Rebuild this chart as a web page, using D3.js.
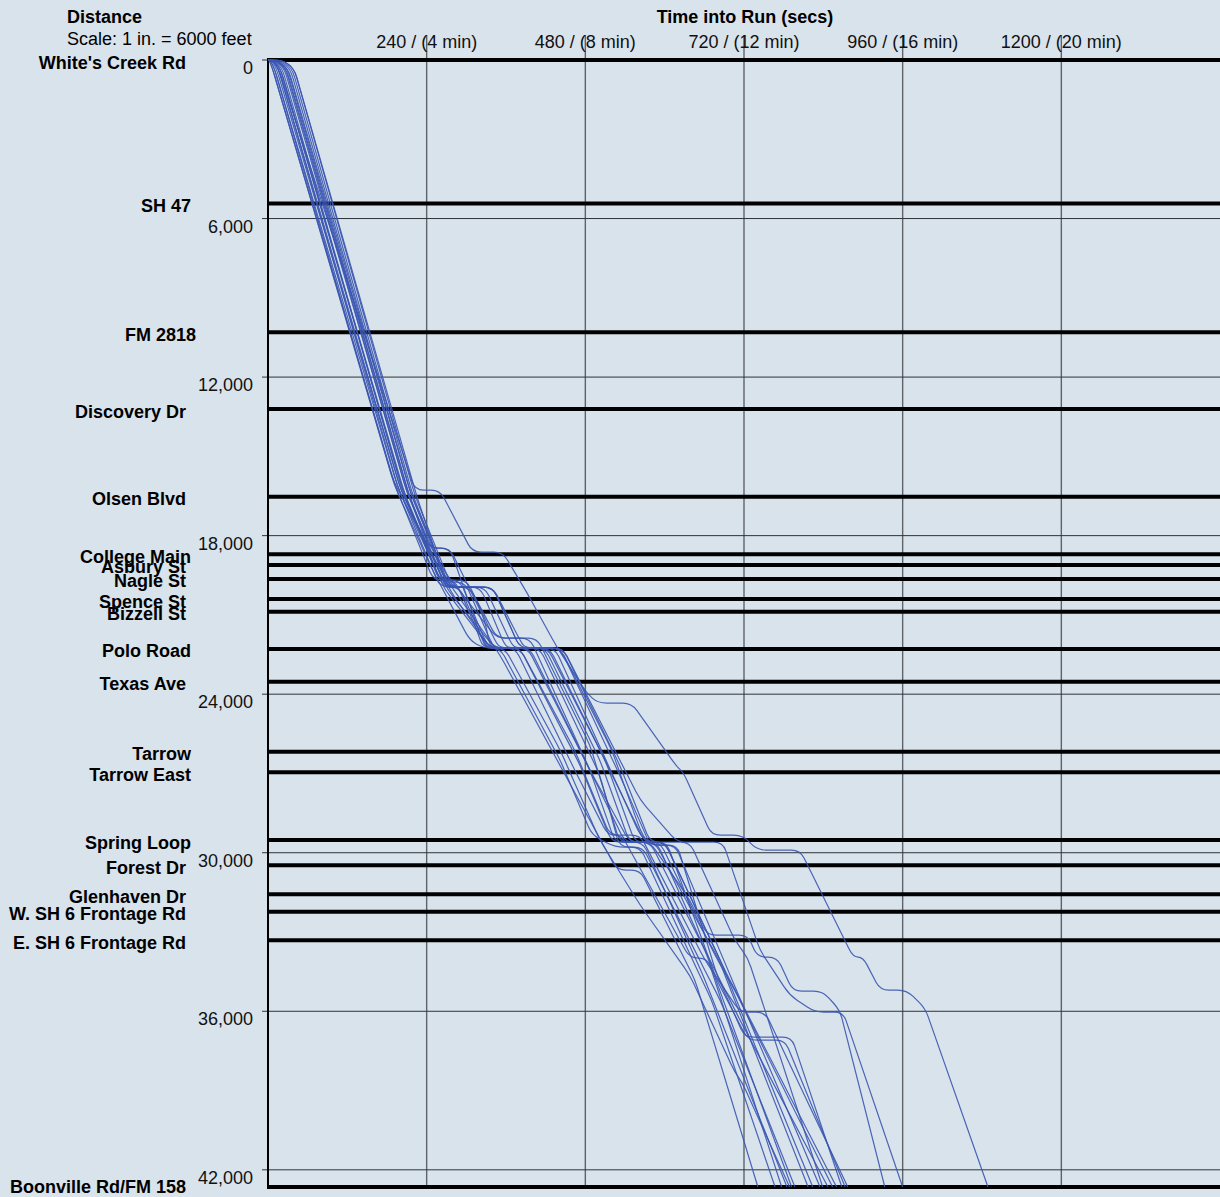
<!DOCTYPE html>
<html><head><meta charset="utf-8">
<script src="https://cdn.jsdelivr.net/npm/d3@7"></script>
<style>
body{margin:0;background:#d9e3ec;}
svg{display:block;}
text{font-family:"Liberation Sans",Arial,sans-serif;}
</style>
</head><body>
<svg id="chart" width="1220" height="1197"></svg>
<script>
// ---------- DATA ----------
const streetNames = ["White's Creek Rd","SH 47","FM 2818","Discovery Dr","Olsen Blvd","College Main","Asbury St","Nagle St","Spence St","Bizzell St","Polo Road","Texas Ave","Tarrow","Tarrow East","Spring Loop","Forest Dr","Glenhaven Dr","W. SH 6 Frontage Rd","E. SH 6 Frontage Rd","Boonville Rd/FM 158"];
const streetDistances = [0,5430,10300,13210,16530,18700,19110,19640,20400,20880,22290,23530,26180,26950,29520,30470,31570,32230,33310,42650];
const distanceTicks = [0,6000,12000,18000,24000,30000,36000,42000];
const timeTicks = [240,480,720,960,1200];
const timeTickLabels = ["240 / (4 min)","480 / (8 min)","720 / (12 min)","960 / (16 min)","1200 / (20 min)"];

// runs: [time (secs), distance (feet)]
const run01 = [[0,0],[6,0],[189,15897],[265,19493],[351,22521],[476,28274],[528,30659],[563,30659],[646,34822],[741,42650]];
const run02 = [[0,0],[3,0],[192,16086],[250,19682],[283,19682],[316,21575],[325,22256],[351,22256],[442,26495],[490,29334],[525,29788],[563,29788],[653,34633],[671,35579],[767,42650]];
const run03 = [[0,0],[12,0],[197,16200],[260,19947],[290,19947],[325,21953],[333,22256],[374,22256],[464,26874],[514,29334],[535,29334],[638,33989],[665,33989],[777,42650]];
const run04 = [[0,0],[6,0],[195,16086],[268,20061],[336,22256],[381,22256],[472,26684],[520,29599],[567,29599],[658,34633],[785,42650]];
const run05 = [[0,0],[18,0],[203,16276],[260,19682],[290,19682],[328,21953],[336,22256],[396,22256],[487,26874],[525,29599],[588,29599],[661,33687],[792,42650]];
const run06 = [[0,0],[9,0],[200,16200],[272,20061],[343,22256],[411,22256],[502,27063],[532,29788],[567,29788],[653,34065],[684,35579],[797,42650]];
const run07 = [[0,0],[3,0],[191,16086],[245,19114],[305,21953],[325,22256],[358,22256],[442,26117],[502,29523],[563,31983],[638,34633],[706,38304],[717,38683],[789,42650]];
const run08 = [[0,0],[24,0],[212,16351],[268,19947],[321,19947],[358,22142],[366,22256],[419,22256],[502,26495],[547,29599],[585,29599],[661,33119],[681,33989],[817,42650]];
const run09 = [[0,0],[21,0],[209,16276],[269,19682],[301,19682],[343,21953],[351,22256],[442,22256],[520,26117],[563,29145],[573,29599],[600,29599],[684,34065],[824,42650]];
const run10 = [[0,0],[27,0],[215,16351],[275,20061],[336,22256],[434,22256],[525,27252],[563,29334],[578,29712],[616,29712],[699,34633],[835,42650]];
const run11 = [[0,0],[33,0],[219,16465],[275,19947],[340,19947],[381,21953],[389,22256],[446,22256],[532,26684],[578,29599],[638,29599],[706,33308],[726,33989],[839,42650]];
const run12 = [[0,0],[30,0],[216,16389],[265,19304],[346,21877],[396,21877],[487,26874],[540,29599],[578,29599],[661,33687],[714,36336],[847,42650]];
const run13 = [[0,0],[15,0],[204,16276],[260,19758],[298,19758],[336,21953],[343,22256],[423,22256],[510,26495],[555,29599],[593,29599],[676,33876],[706,35201],[854,42650]];
const run14 = [[0,0],[36,0],[222,16465],[278,19947],[328,19947],[369,22142],[377,22256],[426,22256],[517,26874],[570,29599],[600,29599],[691,34444],[860,42650]];
const run15 = [[0,0],[12,0],[201,16276],[271,19947],[340,19947],[381,22256],[442,22256],[532,27063],[578,29712],[619,29712],[679,34633],[721,36979],[792,36979],[868,42650]];
const run16 = [[0,0],[15,0],[206,16351],[265,19947],[305,19947],[346,21877],[407,21877],[487,25927],[532,29599],[603,29599],[679,34822],[726,37093],[782,37093],[873,42650]];
const run17 = [[0,0],[23,0],[210,16351],[245,18471],[275,18471],[328,21196],[336,22256],[381,22256],[464,26117],[517,29334],[563,29334],[661,34065],[714,36033],[752,36033],[877,42650]];
const run18 = [[0,0],[26,0],[212,16351],[242,18471],[275,18471],[324,21953],[331,22256],[393,22256],[487,26874],[547,29599],[578,29599],[638,31794],[664,33119],[726,33119],[740,33951],[770,33951],[794,35239],[839,35239],[865,35958],[933,42650]];
const run19 = [[0,0],[36,0],[225,16503],[271,19947],[340,19947],[381,22256],[446,22256],[563,28009],[619,29599],[688,29599],[744,33687],[789,35390],[827,36033],[870,36033],[960,42650]];
const run20 = [[0,0],[12,0],[222,16276],[260,16276],[309,18622],[355,18622],[392,20174],[437,22218],[482,23959],[499,24338],[550,24338],[619,26760],[628,26950],[671,29334],[718,29334],[740,29902],[805,29902],[885,33951],[900,33951],[926,35201],[966,35201],[994,35882],[1089,42650]];
const runs = [run01,run02,run03,run04,run05,run06,run07,run08,run09,run10,run11,run12,run13,run14,run15,run16,run17,run18,run19,run20];

// ---------- DRAWING ----------
const svg = d3.select("#chart");
const W = 1220, H = 1197;
svg.append("rect").attr("width",W).attr("height",H).attr("fill","#d9e3ec");

const x = d3.scaleLinear().domain([0,1440]).range([268,1220]);
const y = d3.scaleLinear().domain([0,42650]).range([60,1187]);
const FS = 18;

// vertical gridlines
svg.append("g").selectAll("line").data(timeTicks).join("line")
  .attr("x1",d=>x(d)).attr("x2",d=>x(d)).attr("y1",35).attr("y2",y(42650))
  .attr("stroke","#5f6368").attr("stroke-width",1.4);

// horizontal gridlines
svg.append("g").selectAll("line").data(distanceTicks).join("line")
  .attr("x1",262).attr("x2",W).attr("y1",d=>y(d)).attr("y2",d=>y(d))
  .attr("stroke","#2f3336").attr("stroke-width",1);

// street lines
svg.append("g").selectAll("line").data(streetDistances).join("line")
  .attr("x1",x(0)).attr("x2",W).attr("y1",d=>y(d)).attr("y2",d=>y(d))
  .attr("stroke","#000").attr("stroke-width",4);

// y axis line
svg.append("line").attr("x1",x(0)).attr("x2",x(0)).attr("y1",y(0)-2).attr("y2",y(42650)+2)
  .attr("stroke","#000").attr("stroke-width",2);

// distance tick labels
const fmt = d3.format(",");
svg.append("g").selectAll("text").data(distanceTicks).join("text")
  .attr("x",253).attr("y",d=>y(d)+14).attr("text-anchor","end")
  .attr("font-size",FS).attr("fill","#111").text(d=>fmt(d));

// time tick labels
svg.append("g").selectAll("text").data(timeTicks).join("text")
  .attr("x",d=>x(d)).attr("y",48).attr("text-anchor","middle")
  .attr("font-size",FS).attr("fill","#111").text((d,i)=>timeTickLabels[i]);

// titles
svg.append("text").attr("x",745).attr("y",23).attr("text-anchor","middle")
  .attr("font-size",FS).attr("font-weight","bold").text("Time into Run (secs)");
svg.append("text").attr("x",67).attr("y",23)
  .attr("font-size",FS).attr("font-weight","bold").text("Distance");
svg.append("text").attr("x",67).attr("y",45)
  .attr("font-size",FS).text("Scale: 1 in. = 6000 feet");

// street labels
const labelRight = {"SH 47":191,"FM 2818":196,"College Main":191,"Polo Road":191,"Tarrow":191,"Tarrow East":191,"Spring Loop":191};
svg.append("g").selectAll("text").data(streetNames).join("text")
  .attr("x",d=>labelRight[d]||186)
  .attr("y",(d,i)=>Math.min(y(streetDistances[i])+8.5, H-4))
  .attr("text-anchor","end").attr("font-size",FS).attr("font-weight","bold")
  .attr("fill","#000").text(d=>d);

// runs with rounded corners
function roundedPath(data, R){
  const pts = data.map(d=>[x(d[0]), y(d[1])]);
  const p = d3.path();
  p.moveTo(pts[0][0], pts[0][1]);
  for(let i=1;i<pts.length-1;i++){
    const [x0,y0]=pts[i-1],[x1,y1]=pts[i],[x2,y2]=pts[i+1];
    const l1=Math.hypot(x1-x0,y1-y0), l2=Math.hypot(x2-x1,y2-y1);
    const rmax = i===1 ? 18 : R;
    const r1 = Math.min(rmax, i===1 ? l1 : l1/2);
    const r2 = Math.min(rmax, l2/2);
    p.lineTo(x1-(x1-x0)/l1*r1, y1-(y1-y0)/l1*r1);
    p.quadraticCurveTo(x1,y1, x1+(x2-x1)/l2*r2, y1+(y2-y1)/l2*r2);
  }
  const last = pts[pts.length-1];
  p.lineTo(last[0], last[1]);
  return p.toString();
}
svg.append("g").selectAll("path").data(runs).join("path")
  .attr("d",d=>roundedPath(d,9))
  .attr("fill","none").attr("stroke","#3a55b0").attr("stroke-width",1.2)
  .attr("stroke-opacity",0.9);
</script>
</body></html>
